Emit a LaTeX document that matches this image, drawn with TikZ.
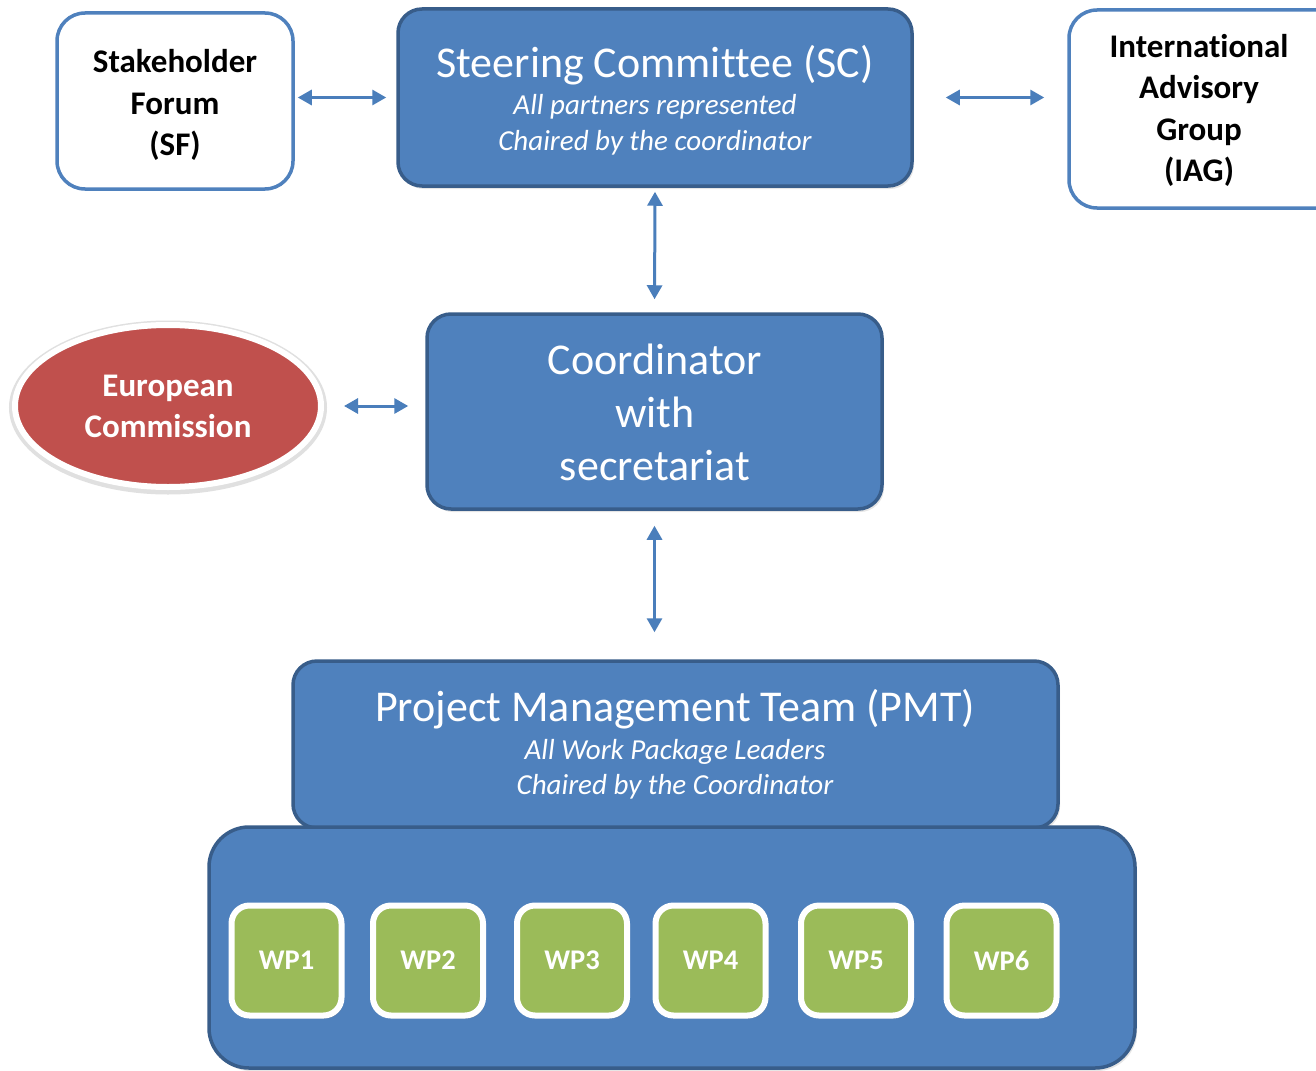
\documentclass[tikz,border=0pt]{standalone}
\usepackage{fontspec}
\setmainfont[Ligatures=NoCommon]{Carlito}
\usetikzlibrary{arrows.meta,shapes.geometric,shadows}
\definecolor{boxblue}{HTML}{4F81BD}
\definecolor{boxedge}{HTML}{385D8A}
\definecolor{arrblue}{HTML}{4A7EBB}
\definecolor{ecred}{HTML}{C0504D}
\definecolor{wpgreen}{HTML}{9BBB59}
\tikzset{
  whitebox/.style={draw=boxblue, line width=3.5pt, fill=white, rounded corners=28pt, inner sep=0pt},
  bluebox/.style={draw=boxedge, line width=3.5pt, fill=boxblue, rounded corners=24pt, inner sep=0pt,
    drop shadow={opacity=0.2, shadow xshift=2pt, shadow yshift=-3pt}},
  wpbox/.style={draw=white, line width=6pt, fill=wpgreen, rounded corners=18pt, inner sep=0pt,
    minimum width=110pt, minimum height=110pt,
    drop shadow={opacity=0.35, shadow xshift=2pt, shadow yshift=-3pt}},
  blk/.style={font=\fontsize{33}{40}\selectfont\bfseries, text=black, anchor=base, inner sep=0pt},
  wtitle/.style={font=\fontsize{44}{50}\selectfont, text=white, anchor=base, inner sep=0pt},
  wsub/.style={font=\fontsize{29}{34}\selectfont\itshape, text=white, anchor=base, inner sep=0pt},
  wbold/.style={font=\fontsize{33}{40}\selectfont\bfseries, text=white, anchor=base, inner sep=0pt},
  wplab/.style={font=\fontsize{28.5}{34}\selectfont\bfseries, text=white},
  arr/.style={draw=arrblue, line width=3pt, {Triangle[length=14pt,width=15pt]}-{Triangle[length=14pt,width=15pt]}},
}
\begin{document}
\begin{tikzpicture}[x=1pt,y=-1pt]
\useasboundingbox (0,0) rectangle (1316,1070);
\clip (0,0) rectangle (1316,1070);
\fill[white] (0,0) rectangle (1316,1070);

% boxes
\node[whitebox, minimum width=236pt, minimum height=176pt] (sf) at (175,101) {};
\node[bluebox, minimum width=514pt, minimum height=177pt] (sc) at (655,97.5) {};
\node[whitebox, minimum width=300pt, minimum height=198pt] (iag) at (1219,109) {};
\node[bluebox, minimum width=455pt, minimum height=195pt] (coord) at (654.5,411.5) {};
\node[ellipse, draw=black!12, line width=2pt, fill=black!12, minimum width=316pt, minimum height=172pt] (echalo) at (168,407.5) {};
\node[ellipse, draw=white, line width=6pt, fill=ecred, minimum width=306pt, minimum height=162pt] (ec) at (168,406) {};
\node[bluebox, minimum width=765pt, minimum height=167pt] (pmt) at (675.5,744.5) {};
\node[bluebox, rounded corners=40pt, minimum width=926pt, minimum height=241pt] (wpa) at (672,947.5) {};

% texts
\node[blk] (sf1) at (175,73) {Stakeholder};
\node[blk] (sf2) at (175,114) {Forum};
\node[blk] (sf3) at (175,155) {(SF)};

\node[wtitle] (sc1) at (655,78) {Steering Committee (SC)};
\node[wsub] (sc2) at (655,115) {All partners represented};
\node[wsub] (sc3) at (655,150) {Chaired by the coordinator};

\node[blk] (iag1) at (1199,58) {International};
\node[blk] (iag2) at (1199,99) {Advisory};
\node[blk] (iag3) at (1199,140) {Group};
\node[blk] (iag4) at (1199,181) {(IAG)};

\node[wtitle] (co1) at (655,374) {Coordinator};
\node[wtitle] (co2) at (655,427) {with};
\node[wtitle] (co3) at (655,480) {secretariat};

\node[wbold] (ec1) at (168,396) {European};
\node[wbold] (ec2) at (168,437) {Commission};

\node[wtitle] (pmt1) at (675,721) {Project Management Team (PMT)};
\node[wsub] (pmt2) at (675,759) {All Work Package Leaders};
\node[wsub] (pmt3) at (675,794) {Chaired by the Coordinator};

% work packages
\node[wpbox] (wp1) at (286.5,960.5) {};
\node[wpbox] (wp2) at (428,960.5) {};
\node[wpbox] (wp3) at (572,960.5) {};
\node[wpbox] (wp4) at (710.5,960.5) {};
\node[wpbox] (wp5) at (856,960.5) {};
\node[wpbox] (wp6) at (1001.5,960.5) {};
\foreach \i in {1,...,6} {\node[wplab] (wpl\i) at (wp\i) {WP\i};}

% connectors
\draw[arr, shorten <=3pt, shorten >=10pt] (sc.west -| sf.east) -- (sc.west);
\draw[arr, shorten <=32pt, shorten >=23pt] (sc.east) -- (sc.east -| iag.west);
\draw[arr, shorten <=4pt, shorten >=13pt] (sc.south) -- (coord.north);
\draw[arr, shorten <=20pt, shorten >=17pt] (ec.east) -- (ec.east -| coord.west);
\draw[arr, shorten <=15pt, shorten >=27pt] (coord.south) -- (coord.south |- pmt.north);
\end{tikzpicture}
\end{document}
